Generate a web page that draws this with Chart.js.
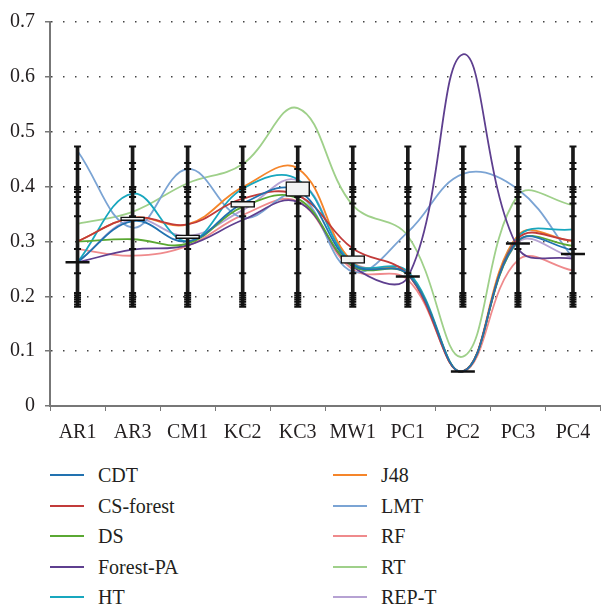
<!DOCTYPE html>
<html>
<head>
<meta charset="utf-8">
<title>Classifier scores</title>
<script src="https://cdn.jsdelivr.net/npm/chart.js@4.4.1/dist/chart.umd.min.js"></script>
<style>
  html, body { margin: 0; padding: 0; background: #fff; }
  #wrap { position: relative; width: 615px; height: 610px; overflow: hidden; }
  #chart { position: absolute; left: 0; top: 0; }
  #legend { position: absolute; left: 0; top: 0; font-family: "Liberation Serif", "Times New Roman", "DejaVu Serif", serif; font-size: 20px; color: #231f20; }
  .item { position: absolute; height: 24px; line-height: 24px; white-space: nowrap; }
  .item i { position: absolute; left: 0; top: 11px; width: 34px; height: 2px; }
  .item span { position: absolute; left: 48px; top: 0; }
</style>
</head>
<body>
<div id="wrap">
  <canvas id="chart" width="615" height="446"></canvas>
  <div id="legend"></div>
</div>
<script>
// Datasets (x categories)
const categories = ['AR1', 'AR3', 'CM1', 'KC2', 'KC3', 'MW1', 'PC1', 'PC2', 'PC3', 'PC4'];

// Scores per classifier
const cdt      = [0.262, 0.337, 0.300, 0.369, 0.393, 0.258, 0.240, 0.063, 0.301, 0.284];
const csForest = [0.300, 0.343, 0.331, 0.378, 0.384, 0.287, 0.240, 0.063, 0.305, 0.302];
const ds       = [0.300, 0.304, 0.296, 0.363, 0.378, 0.255, 0.240, 0.063, 0.300, 0.292];
const forestPa = [0.262, 0.285, 0.293, 0.339, 0.372, 0.254, 0.235, 0.641, 0.288, 0.268];
const ht       = [0.262, 0.387, 0.300, 0.396, 0.413, 0.260, 0.245, 0.063, 0.308, 0.322];
const j48      = [0.300, 0.343, 0.331, 0.399, 0.433, 0.262, 0.240, 0.063, 0.311, 0.300];
const lmt      = [0.465, 0.325, 0.432, 0.343, 0.385, 0.245, 0.317, 0.423, 0.395, 0.270];
const rf       = [0.286, 0.274, 0.292, 0.348, 0.373, 0.249, 0.230, 0.063, 0.266, 0.247];
const rt       = [0.332, 0.354, 0.406, 0.441, 0.543, 0.366, 0.310, 0.090, 0.384, 0.366];
const repT     = [0.262, 0.340, 0.310, 0.357, 0.411, 0.262, 0.240, 0.063, 0.298, 0.270];

const seriesNames  = ['CDT', 'CS-forest', 'DS', 'Forest-PA', 'HT', 'J48', 'LMT', 'RF', 'RT', 'REP-T'];
const seriesValues = [cdt, csForest, ds, forestPa, ht, j48, lmt, rf, rt, repT];
const seriesColors = ['#2272b0', '#c23b3a', '#5aa832', '#5e3f8f', '#18a7be',
                      '#f5852a', '#7ba4d4', '#ef8a8c', '#9fd08a', '#b6a2d3'];

// Error bar range and its tick marks (same for every category)
const whiskerLow  = 0.181;
const whiskerHigh = 0.473;
const whiskerTicks = [0.473, 0.443, 0.432, 0.399, 0.395, 0.390, 0.381, 0.369, 0.346,
                      0.286, 0.242, 0.206, 0.202, 0.198, 0.194, 0.190, 0.185, 0.181];

// Boxes and medians
const boxLow  = [null, 0.338, 0.305, 0.362, 0.382, 0.260, null, null, null, null];
const boxHigh = [null, 0.345, 0.312, 0.373, 0.409, 0.274, null, null, null, null];
const medians = [0.262, null, null, null, null, null, 0.236, 0.063, 0.296, 0.277];

const yTicks = [0, 0.1, 0.2, 0.3, 0.4, 0.5, 0.6, 0.7];

const font = { family: '"Liberation Serif", "Times New Roman", "DejaVu Serif", serif', size: 20 };
const ink = '#231f20';

const tickPoints = [];
categories.forEach(c => whiskerTicks.forEach(v => tickPoints.push({ x: c, y: v })));

const datasets = [];

datasets.push({
    type: 'line', data: medians, showLine: false,
    pointStyle: 'line', pointRadius: 12, pointBorderWidth: 2.5,
    borderColor: '#111', pointBorderColor: '#111', order: 0
});
datasets.push({
    type: 'bar',
    data: categories.map((c, i) => boxLow[i] == null ? null : [boxLow[i], boxHigh[i]]),
    backgroundColor: '#f2f3f3', borderColor: '#111', borderWidth: 1.5,
    borderSkipped: false, barThickness: 24, grouped: false, order: 1
});
datasets.push({
    type: 'line', data: tickPoints, showLine: false,
    pointStyle: 'line', pointRadius: 3.5, pointBorderWidth: 2,
    borderColor: '#111', pointBorderColor: '#111', order: 2
});
datasets.push({
    type: 'bar', data: categories.map(() => [whiskerLow, whiskerHigh]),
    backgroundColor: '#1a1a1a', barThickness: 3, grouped: false, order: 3
});
seriesNames.forEach((name, i) => {
    datasets.push({
        type: 'line', label: name, data: seriesValues[i],
        borderColor: seriesColors[i], borderWidth: 1.8,
        pointRadius: 0, tension: 0.4, fill: false, order: 4
    });
});

new Chart(document.getElementById('chart'), {
    type: 'bar',
    data: { labels: categories, datasets: datasets },
    options: {
        responsive: false,
        animation: false,
        layout: { padding: { top: 18, right: 0, bottom: 0, left: 0 } },
        plugins: { legend: { display: false }, tooltip: { enabled: false } },
        scales: {
            x: {
                offset: true,
                grid: { offset: true, drawOnChartArea: false, drawTicks: true, tickLength: 5, color: '#777' },
                border: { color: '#777', width: 2 },
                ticks: { font: font, color: ink, padding: 10 },
                afterFit: s => { s.height = 40; }
            },
            y: {
                min: 0, max: 0.7,
                afterBuildTicks: s => { s.ticks = yTicks.map(v => ({ value: v })); },
                ticks: { font: font, color: ink, padding: 10, callback: v => v === 0 ? '0' : v.toFixed(1) },
                grid: {
                    color: ctx => ctx.tick && ctx.tick.value === 0 ? 'rgba(0,0,0,0)' : '#444',
                    lineWidth: 1.5, tickLength: 5, tickColor: '#777', tickBorderDash: []
                },
                border: { color: '#777', width: 2, dash: [1.5, 10.5] },
                afterFit: s => { s.width = 50; }
            }
        }
    }
});

// Two-column legend below the plot
const legend = document.getElementById('legend');
seriesNames.forEach((name, i) => {
    const col = Math.floor(i / 5), row = i % 5;
    const el = document.createElement('div');
    el.className = 'item';
    el.style.left = (col === 0 ? 50 : 333) + 'px';
    el.style.top = (463 + row * 30.5) + 'px';
    el.innerHTML = '<i style="background:' + seriesColors[i] + '"></i><span>' + name + '</span>';
    legend.appendChild(el);
});
</script>
</body>
</html>
